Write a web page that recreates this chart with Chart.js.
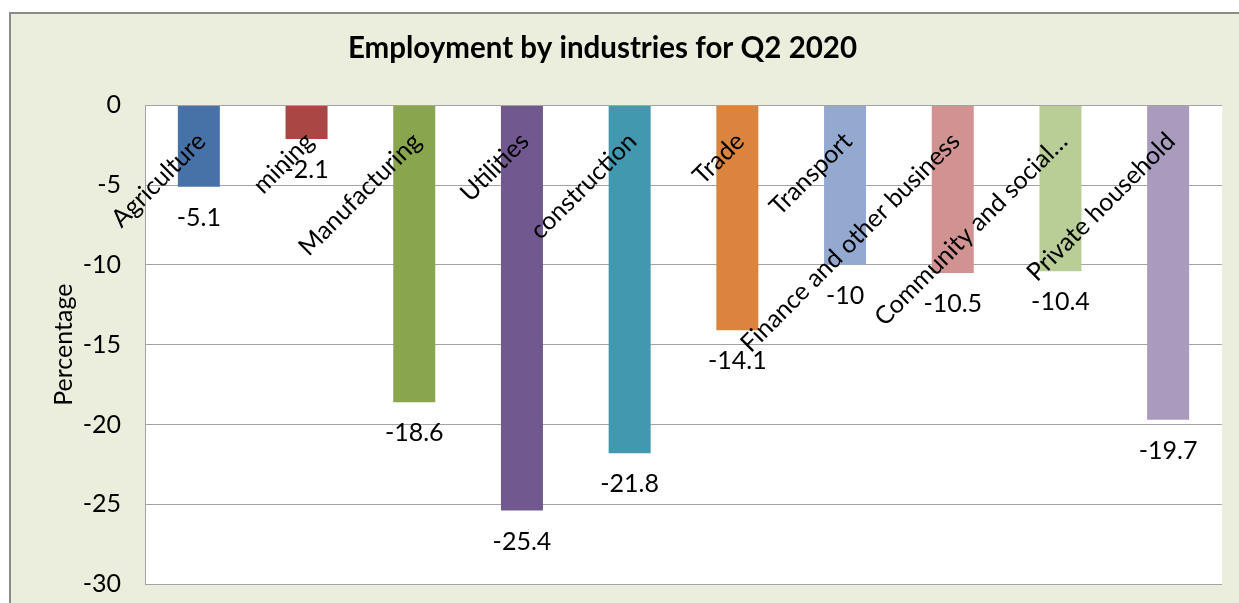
<!DOCTYPE html>
<html>
<head>
<meta charset="utf-8">
<script src="https://cdn.jsdelivr.net/npm/chart.js@4"></script>
<style>
  html, body { margin: 0; padding: 0; background: #fff; overflow: hidden; }
  #frame {
    position: absolute; left: 9px; top: 12px; width: 1300px; height: 700px;
    background: #EBEEDD; border-top: 2px solid #8a8a8a; border-left: 2px solid #8a8a8a;
  }
  #wrap { position: absolute; left: -17px; top: 0; width: 1256px; height: 603px; }
</style>
</head>
<body>
<div id="frame"></div>
<div id="wrap"><canvas id="chartEmployment"></canvas></div>
<script>
// data
const industries = ['Agriculture', 'mining', 'Manufacturing', 'Utilities', 'construction',
  'Trade', 'Transport', 'Finance and other business', 'Community and social…', 'Private household'];
const changePct = [-5.1, -2.1, -18.6, -25.4, -21.8, -14.1, -10, -10.5, -10.4, -19.7];
const yMin = -30, yMax = 0, yStep = 5;
const chartTitle = 'Employment by industries for Q2 2020';
const yTitle = 'Percentage';

const barColours = ['#4672A8', '#AA4643', '#89A54E', '#71588F', '#4198AF',
  '#DB843D', '#93A9CF', '#D19392', '#B9CD96', '#A99BBD'];

Chart.defaults.font.family = 'Lato';
Chart.defaults.color = '#000';

// white plot area
const plotBg = {
  id: 'plotBg',
  beforeDraw(chart) {
    const a = chart.chartArea, ctx = chart.ctx;
    ctx.save();
    ctx.fillStyle = '#fff';
    ctx.fillRect(a.left, a.top, a.right - a.left, a.bottom - a.top);
    ctx.restore();
  }
};

// rotated category names under the zero line + value labels under each bar
const barText = {
  id: 'barText',
  afterDatasetsDraw(chart) {
    const ctx = chart.ctx;
    const xs = chart.scales.x, ys = chart.scales.y;
    const y0 = ys.getPixelForValue(0);
    const meta = chart.getDatasetMeta(0);
    ctx.save();
    ctx.fillStyle = '#000';
    ctx.font = '25px Lato';
    meta.data.forEach((bar, i) => {
      ctx.textAlign = 'center';
      ctx.textBaseline = 'middle';
      ctx.fillText(String(changePct[i]), bar.x, bar.y + 31);
    });
    industries.forEach((name, i) => {
      ctx.save();
      ctx.translate(xs.getPixelForValue(i) - 6, y0 + 23);
      ctx.rotate(-Math.PI / 4);
      ctx.textAlign = 'right';
      ctx.textBaseline = 'top';
      ctx.fillText(name, 0, 0);
      ctx.restore();
    });
    ctx.restore();
  }
};

new Chart(document.getElementById('chartEmployment'), {
  type: 'bar',
  data: {
    labels: industries,
    datasets: [{
      data: changePct,
      backgroundColor: barColours,
      barPercentage: 0.39,
      categoryPercentage: 1
    }]
  },
  options: {
    responsive: true,
    maintainAspectRatio: false,
    animation: false,
    layout: { padding: { top: 0, left: 0, right: 17, bottom: 19 } },
    plugins: {
      legend: { display: false },
      tooltip: { enabled: false },
      title: {
        display: true,
        text: chartTitle,
        color: '#000',
        font: { family: 'Lato', size: 29.5, weight: 'bold', lineHeight: 1.2 },
        padding: { top: 31, bottom: 39 }
      }
    },
    scales: {
      x: { display: false },
      y: {
        min: yMin,
        max: yMax,
        ticks: { stepSize: yStep, padding: 24, color: '#000', font: { size: 25 } },
        grid: { color: '#A3A3A3', drawTicks: false },
        border: { display: true, color: '#A3A3A3' },
        title: {
          display: true,
          text: yTitle,
          color: '#000',
          font: { size: 25 },
          padding: { top: 66, bottom: 0 }
        },
        afterFit(scale) {
          scale.width = 162;
          scale.paddingTop = 0;
          scale.paddingBottom = 0;
        }
      }
    }
  },
  plugins: [plotBg, barText]
});
</script>
</body>
</html>
